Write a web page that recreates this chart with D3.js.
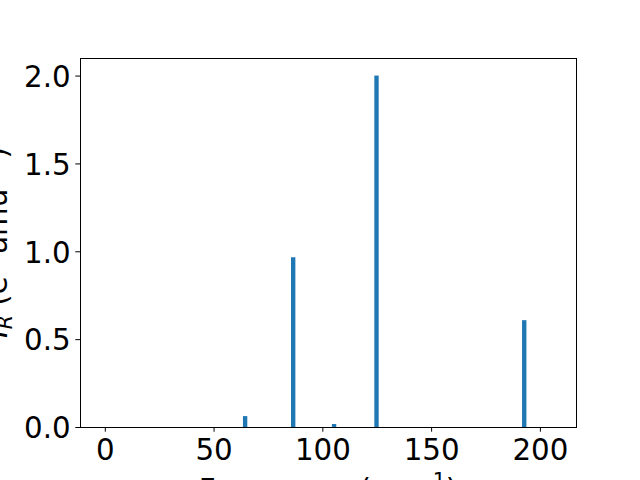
<!DOCTYPE html>
<html>
<head>
<meta charset="utf-8">
<script src="https://cdn.jsdelivr.net/npm/d3@7"></script>
<style>
  html, body { margin: 0; padding: 0; background: #fff; }
  svg { display: block; }
  text { font-family: "DejaVu Sans", sans-serif; }
</style>
</head>
<body>
<svg id="chart" width="640" height="480"></svg>
<script>
// Data
const frequencies = [64.5, 86.6, 105.4, 124.9, 192.8];
const intensities = [0.062, 0.966, 0.017, 2.0, 0.608];
const xTicks = [0, 50, 100, 150, 200];
const yTicks = [0.0, 0.5, 1.0, 1.5, 2.0];
const barWidth = 2;
const xDomain = [-11.4, 216.6];
const yDomain = [0, 2.1];

const W = 640, H = 480;
const m = { left: 80, right: 64, top: 58, bottom: 53 };
const svg = d3.select("#chart");

const x = d3.scaleLinear().domain(xDomain).range([m.left, W - m.right]);
const y = d3.scaleLinear().domain(yDomain).range([H - m.bottom, m.top]);

const fs = 29.3;

// bars
svg.append("g").selectAll("rect")
  .data(frequencies.map((f, i) => ({ f, v: intensities[i] })))
  .enter().append("rect")
  .attr("x", d => x(d.f - barWidth / 2))
  .attr("width", d => x(d.f + barWidth / 2) - x(d.f - barWidth / 2))
  .attr("y", d => y(d.v))
  .attr("height", d => y(0) - y(d.v))
  .attr("fill", "#1f77b4");

// axes
const xAxis = d3.axisBottom(x).tickValues(xTicks).tickFormat(d3.format("d"))
  .tickSize(4.7).tickPadding(4.7);
const yAxis = d3.axisLeft(y).tickValues(yTicks).tickFormat(d3.format(".1f"))
  .tickSize(4.7).tickPadding(4.7);

const gx = svg.append("g").attr("transform", `translate(0,${H - m.bottom})`).call(xAxis);
const gy = svg.append("g").attr("transform", `translate(${m.left},0)`).call(yAxis);
[gx, gy].forEach(g => {
  g.select(".domain").remove();
  g.selectAll("line").attr("stroke", "#000").attr("stroke-width", 1);
  g.selectAll("text").attr("font-size", fs).attr("fill", "#000")
    .attr("font-family", "DejaVu Sans, sans-serif");
});
gx.selectAll("text").attr("dy", "0.8em");
gy.selectAll("text").attr("dy", "0.37em");

// frame
svg.append("rect")
  .attr("x", m.left).attr("y", m.top)
  .attr("width", W - m.left - m.right).attr("height", H - m.top - m.bottom)
  .attr("fill", "none").attr("stroke", "#000").attr("stroke-width", 1)
  .attr("shape-rendering", "crispEdges");

// x label
const xl = svg.append("text")
  .attr("x", (m.left + W - m.right) / 2).attr("y", 499.5)
  .attr("text-anchor", "middle").attr("font-size", fs);
xl.append("tspan").text("Frequency (cm");
xl.append("tspan").attr("font-size", fs * 0.7).attr("dy", -12).text("−1");
xl.append("tspan").attr("dy", 12).text(")");

// y label
const yl = svg.append("text")
  .attr("transform", `translate(7,${(m.top + H - m.bottom) / 2}) rotate(-90)`)
  .attr("text-anchor", "middle").attr("font-size", fs);
yl.append("tspan").attr("font-style", "italic").text("I");
yl.append("tspan").attr("font-style", "italic").attr("font-size", fs * 0.7).attr("dy", 5).text("R");
yl.append("tspan").attr("dy", -5).text(" (e");
yl.append("tspan").attr("font-size", fs * 0.7).attr("dy", -12).text("2");
yl.append("tspan").attr("dy", 12).text(" amu");
yl.append("tspan").attr("font-size", fs * 0.7).attr("dy", -12).text("−1");
yl.append("tspan").attr("dy", 12).text(")");
</script>
</body>
</html>
